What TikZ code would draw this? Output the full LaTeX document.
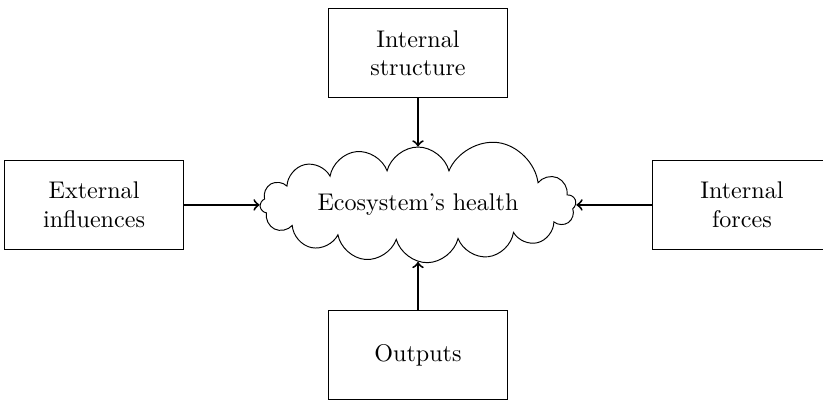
\documentclass[tikz,border=0pt]{standalone}
\usepackage{tikz}
\usetikzlibrary{shapes.symbols,positioning,arrows}
\tikzset{
    factor/.style={
        draw, rectangle, align=center,
        minimum width=74pt, minimum height=37pt,
        inner sep=3pt, text=black
    }
}
\begin{document}
\begin{tikzpicture}[
        health/.style={
            draw, cloud, cloud puffs=15.7, cloud ignores aspect,
            minimum width=131pt, minimum height=48pt,
            align=center, text=black
        },
        node distance=20pt and 31.5pt
      ]

    \useasboundingbox (-173.4pt,-81.3pt) rectangle (168pt,85pt);
    \node[health] (H) at (0,0) {Ecosystem's health};
    \node[factor] (S) [above=of H] {Internal\\structure};
    \node[factor] (E) [left=of H]  {External\\influences};
    \node[factor] (F) [right=of H] {Internal\\forces};
    \node[factor] (O) [below=of H] {Outputs};
    \draw[->, thick] (S) -- (H);
    \draw[->, thick] (E) -- (H);
    \draw[->, thick] (F) -- (H);
    \draw[->, thick] (O) -- (H);

\end{tikzpicture}
\end{document}
